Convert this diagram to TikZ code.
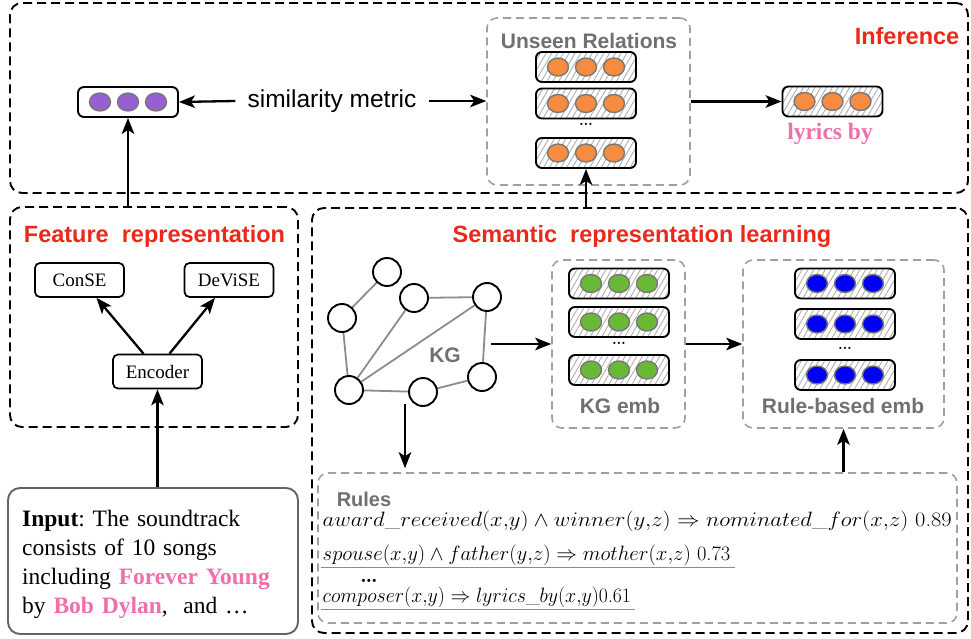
\documentclass[tikz,border=0pt]{standalone}
\usepackage{fontspec}
\newfontfamily\timesf{Liberation Serif}
\newfontfamily\arialf{Liberation Sans}
\usetikzlibrary{arrows.meta,patterns.meta,calc,shapes.geometric}
\definecolor{titlered}{RGB}{236,40,26}
\definecolor{pinkc}{RGB}{240,110,170}
\definecolor{labgray}{RGB}{112,112,112}
\definecolor{boxgray}{RGB}{160,160,160}
\definecolor{inputgray}{RGB}{100,100,100}
\definecolor{edgegray}{RGB}{140,140,140}
\definecolor{hatchgray}{RGB}{175,175,175}
\definecolor{dotgray}{RGB}{120,120,120}
\definecolor{orangec}{RGB}{247,140,65}
\definecolor{purplec}{RGB}{150,95,210}
\definecolor{greenc}{RGB}{105,185,55}
\definecolor{bluec}{RGB}{0,0,245}
\newcommand\vectr[4]{%
  \node[vecbox,#4] (#1) at (#2) {};
  \foreach \dx in {-28,0,28} {\node[vdot,fill=#3] at ($(#1)+(\dx,0)$) {};}
}
\frenchspacing
\begin{document}
\begin{tikzpicture}[x=1pt,y=-1pt,
  bigbox/.style={draw=black,line width=1.9pt,dash pattern=on 9pt off 5pt,rounded corners=12pt,inner sep=0pt},
  graybox/.style={draw=boxgray,line width=1.6pt,dash pattern=on 8pt off 5pt,rounded corners=10pt,inner sep=0pt},
  vecbox/.style={draw=black,line width=1.9pt,rounded corners=6pt,minimum width=100pt,minimum height=30pt,inner sep=0pt},
  hatch/.style={pattern={Lines[angle=60,distance=5pt,line width=0.9pt]},pattern color=hatchgray},
  vdot/.style={ellipse,draw=dotgray,line width=1.4pt,minimum width=21pt,minimum height=18pt,inner sep=0pt},
  arr/.style={-{Stealth[length=16pt,width=12.5pt,inset=4pt]},line width=2.3pt},
  ttl/.style={font=\arialf\bfseries\fontsize{23.5}{28}\selectfont,text=titlered,inner sep=0pt},
  glabel/.style={font=\arialf\bfseries\fontsize{21}{25}\selectfont,text=labgray,inner sep=0pt},
  mbox/.style={draw,line width=1.7pt,rounded corners=5pt,minimum width=89pt,minimum height=34pt,inner sep=0pt,font=\timesf\fontsize{19}{22}\selectfont},
  kgn/.style={circle,draw,line width=1.9pt,fill=white,minimum size=28pt,inner sep=0pt},
  kge/.style={draw=edgegray,line width=1.8pt},
  ruletext/.style={anchor=west,inner sep=1.5pt,font=\fontsize{20.5}{23}\selectfont},
  vdots/.style={font=\fontsize{27}{28}\selectfont,inner sep=0pt},
]
\useasboundingbox (0,0) rectangle (971,639);

% ---------- big dashed boxes ----------
\node[bigbox,minimum width=958pt,minimum height=190pt] (inf) at (489,98) {};
\node[bigbox,minimum width=288pt,minimum height=220pt] (feat) at (154,317) {};
\node[bigbox,minimum width=656pt,minimum height=425pt] (sem) at (640,420.5) {};
\node[draw=inputgray,line width=1.9pt,rounded corners=12pt,minimum width=290pt,minimum height=146pt,inner sep=0pt] (input) at (153,561) {};

% ---------- titles ----------
\node[ttl] (tinf) at (907,36) {Inference};
\node[ttl] (tfeat) at (154.5,236) {Feature\ \ representation};
\node[ttl] (tsem) at (642,236) {Semantic\ \ representation learning};

% ---------- inference part ----------
\vectr{purple}{128,102}{purplec}{fill=white}
\node[font=\arialf\fontsize{24.5}{28}\selectfont,inner sep=12pt] (sim) at (332,101) {similarity metric};

\node[graybox,minimum width=203pt,minimum height=167pt] (unseen) at (588.5,101.5) {};
\node[glabel] (tunseen) at (589,41) {Unseen Relations};
\vectr{u1}{586,67}{orangec}{hatch}
\vectr{u2}{586,103.5}{orangec}{hatch}
\node[vdots] (udots) at (586,124) {\dots};
\vectr{u3}{586,153}{orangec}{hatch}

\vectr{lyrics}{832.5,101.5}{orangec}{hatch}
\node[font=\timesf\bfseries\fontsize{23.5}{28}\selectfont,text=pinkc,inner sep=0pt] (tlyrics) at (830,134) {lyrics by};

\draw[arr] (sim.west) -- (purple.east);
\draw[arr] (sim.east) -- (unseen.west |- sim.east);
\draw[arr] (unseen.east |- lyrics) -- (lyrics.west);
\draw[arr] (purple.south |- feat.north) -- (purple.south);
\draw[arr] (u3.south |- sem.north) -- (u3.south);

% ---------- feature representation ----------
\node[mbox] (conse) at (79.5,280) {ConSE};
\node[mbox] (devise) at (229,280) {DeViSE};
\node[mbox] (enc) at (157.5,371.5) {Encoder};
\draw[arr] ([xshift=-14pt]enc.north) -- ([xshift=17pt]conse.south);
\draw[arr] ([xshift=12pt]enc.north) -- ([xshift=-14pt]devise.south);
\draw[arr] (input.north -| enc) -- (enc.south);

% ---------- input text ----------
\node[anchor=north west,inner sep=0pt,text width=272pt,align=left,font=\timesf\fontsize{23.5}{29}\selectfont] (intext) at (22,510)
  {\textbf{Input}: The soundtrack\\consists of 10 songs\\including \textcolor{pinkc}{\textbf{Forever Young}}\\by \textcolor{pinkc}{\textbf{Bob Dylan}},\ \ and \dots};

% ---------- KG ----------
\coordinate (n1) at (387,272);
\coordinate (n2) at (414,298);
\coordinate (n3) at (487,297);
\coordinate (n4) at (342,318);
\coordinate (n5) at (349,390);
\coordinate (n6) at (423,392);
\coordinate (n7) at (482,377);
\draw[kge] (n1) -- (n4);
\draw[kge] (n4) -- (n5);
\draw[kge] (n2) -- (n3);
\draw[kge] (n2) -- (n5);
\draw[kge] (n3) -- (n5);
\draw[kge] (n3) -- (n7);
\draw[kge] (n5) -- (n6);
\draw[kge] (n6) -- (n7);
\foreach \n in {n1,n2,n3,n4,n5,n6,n7} {\node[kgn] (k\n) at (\n) {};}
\node[glabel] (tkg) at (445,355) {KG};

% ---------- KG emb ----------
\node[graybox,minimum width=133pt,minimum height=168pt] (kgemb) at (618.5,344) {};
\vectr{g1}{619,283.5}{greenc}{hatch}
\vectr{g2}{619,322}{greenc}{hatch}
\node[vdots] (gdots) at (619,343) {\dots};
\vectr{g3}{619,370}{greenc}{hatch}
\node[glabel] (tkgemb) at (620,406) {KG emb};

% ---------- Rule-based emb ----------
\node[graybox,minimum width=201pt,minimum height=168pt] (ruleemb) at (843.5,344) {};
\vectr{b1}{845,283.5}{bluec}{hatch}
\vectr{b2}{845,324}{bluec}{hatch}
\node[vdots] (bdots) at (845,348) {\dots};
\vectr{b3}{845,375}{bluec}{hatch}
\node[glabel] (truleemb) at (843,406) {Rule-based emb};

\coordinate (kgout) at (491,344);
\draw[arr] (kgout) -- (kgemb.west |- kgout);
\draw[arr] (kgemb.east) -- (ruleemb.west);

% ---------- Rules ----------
\node[graybox,minimum width=639pt,minimum height=150pt] (rules) at (637.5,548) {};
\node[glabel,font=\arialf\bfseries\fontsize{20}{24}\selectfont] (trules) at (364,499) {Rules};
\node[ruletext] (r1) at (321,521) {\scalebox{1.095}[1]{$award\_received(x{,}y) \wedge winner(y{,}z) \Rightarrow nominated\_for(x{,}z)$ 0.89}};
\node[ruletext] (r2) at (321,555) {$spouse(x{,}y) \wedge father(y{,}z) \Rightarrow mother(x{,}z)$ 0.73};
\node[font=\bfseries\fontsize{22}{24}\selectfont,inner sep=0pt] (rdots) at (369,581) {\dots};
\node[ruletext] (r3) at (321,597) {\scalebox{0.96}[1]{$composer(x{,}y) \Rightarrow lyrics\_by(x{,}y)$0.61}};
\draw[draw=edgegray,line width=0.9pt] (r2.south west) -- ([xshift=3pt]r2.south east);
\draw[draw=edgegray,line width=0.9pt] (r3.south west) -- ([xshift=2pt]r3.south east);

\coordinate (kgbot) at (405,404);
\draw[arr,shorten >=4pt] (kgbot) -- (kgbot |- rules.north);
\draw[arr] (rules.north -| ruleemb) -- (ruleemb.south);
\end{tikzpicture}
\end{document}
